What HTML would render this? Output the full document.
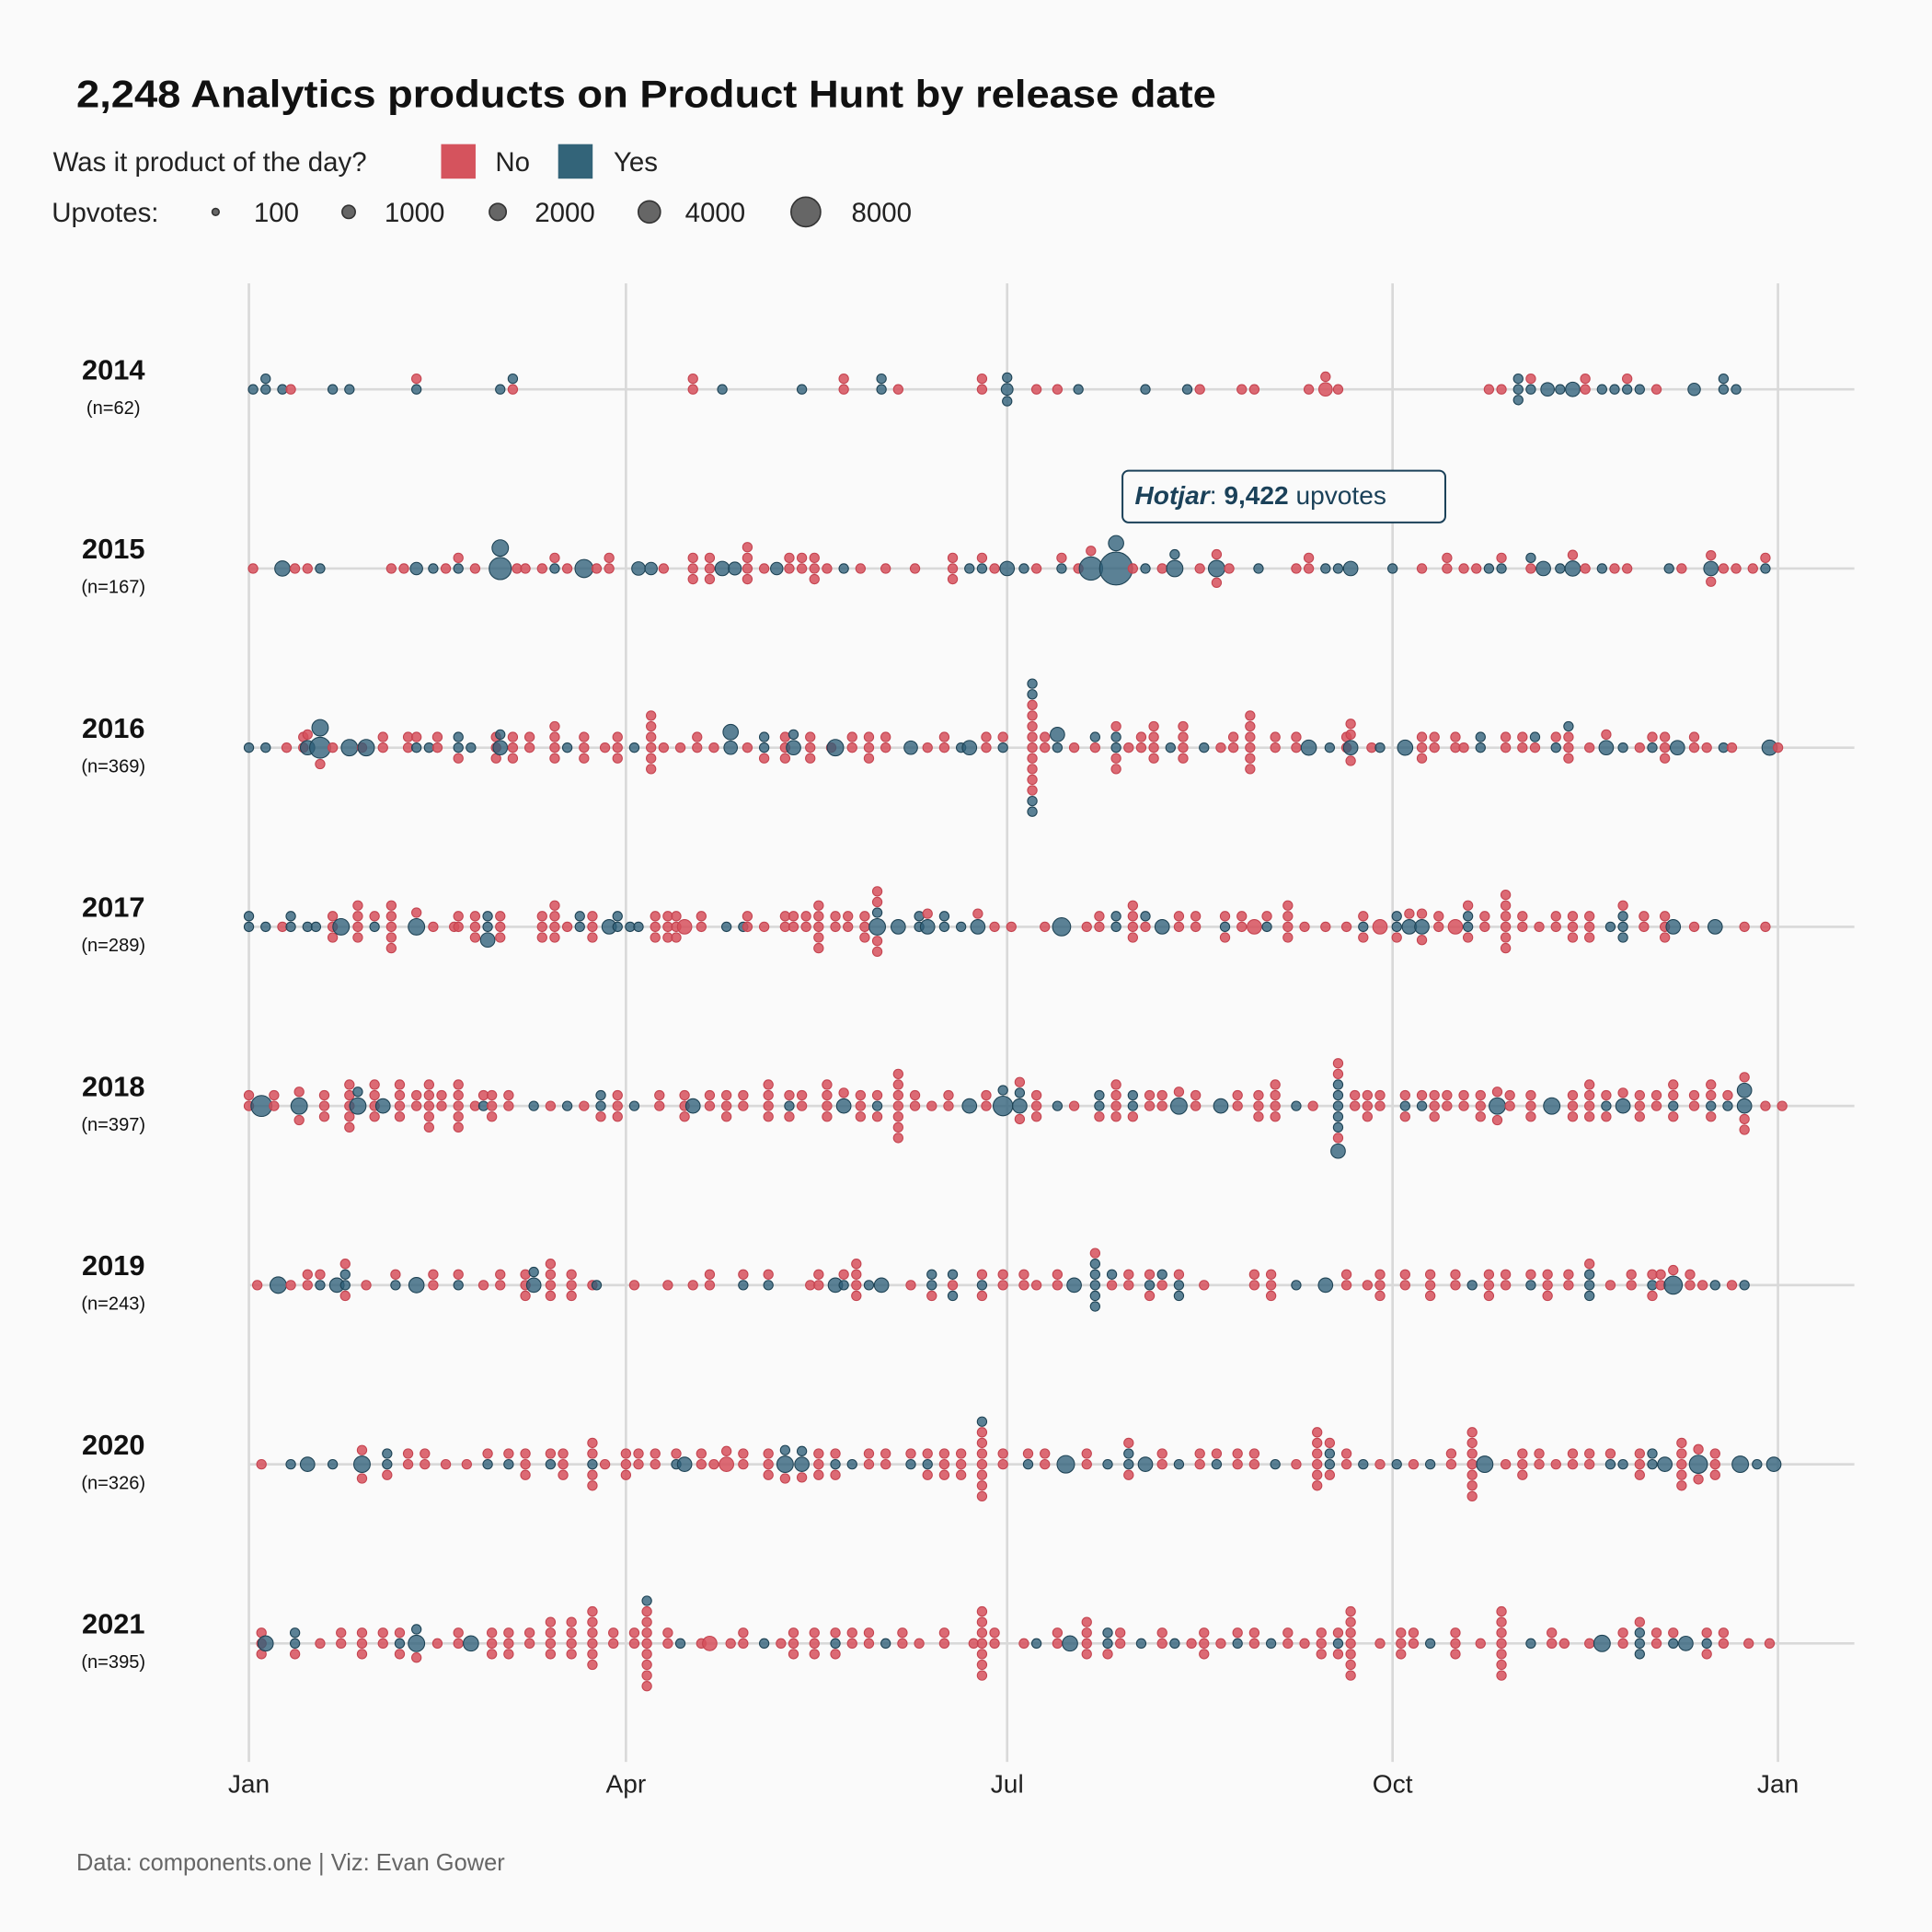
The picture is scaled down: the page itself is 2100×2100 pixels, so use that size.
<!DOCTYPE html>
<html><head><meta charset="utf-8"><style>
html,body{margin:0;padding:0;background:#fafafa}
svg{display:block}
text{font-family:"Liberation Sans",sans-serif}
</style></head><body>
<svg id="chart" width="2100" height="2100" viewBox="0 0 1568 1568" xmlns="http://www.w3.org/2000/svg">
<rect width="1568" height="1568" fill="#fafafa"/>
<text x="62" y="87" font-size="31" font-weight="bold" fill="#111" textLength="925" lengthAdjust="spacingAndGlyphs">2,248 Analytics products on Product Hunt by release date</text>
<g>
<text x="43" y="139" font-size="22" fill="#222">Was it product of the day?</text>
<rect x="358" y="117" width="28" height="28" fill="#d5535d"/>
<text x="402" y="139" font-size="22" fill="#222">No</text>
<rect x="453" y="117" width="28" height="28" fill="#336479"/>
<text x="498" y="139" font-size="22" fill="#222">Yes</text>
</g>
<g id="sizeLegend">
<text x="42" y="180" font-size="22" fill="#222">Upvotes:</text>
</g>
<g id="grid"></g>
<g id="marks"></g>
<g id="ylabels"></g>
<g id="xlabels"></g>
<g>
<rect x="911" y="382" width="262" height="42" rx="5" fill="#fafafa" stroke="#1b4159" stroke-width="1.5"/>
<text x="921" y="409" font-size="21" fill="#1b4159"><tspan font-style="italic" font-weight="bold">Hotjar</tspan>: <tspan font-weight="bold">9,422</tspan> upvotes</text>
</g>
<text x="62" y="1518" font-size="19" fill="#666">Data: components.one | Viz: Evan Gower</text>
</svg>
<script>
const years=["2014","2015","2016","2017","2018","2019","2020","2021"];
const counts=[62,167,369,289,397,243,326,395];
const monthTicks=["Jan","Apr","Jul","Oct","Jan"];
const monthTickDays=[0,90,181,273,365];
const sizeLegendValues=[100,1000,2000,4000,8000];
const d2014="1:b 4:b,b 8:b 10:r 20:b 24:b 40:b,r 60:b 63:r,b 106:r,r 113:b 132:b 142:r,r 151:b,b 155:r 175:r,r 181:b500,b,b 188:r 193:r 198:b 214:b 224:b 227:r 237:r 240:r 253:r 257:r800,r 260:r 296:r 299:r 303:b,b,b 306:b,r 310:b800 313:b 316:b1000 319:r,r 323:b 326:b 329:b,r 332:b 336:r 345:b600 352:b,b 355:b";
const d2015="1:r 8:b1200 11:r 14:r 17:b 34:r 37:r 40:b600 44:b 47:r 50:b,r 54:r 60:b3500,b1500 64:r 66:r 70:r 73:b,r 76:r 80:b2000 83:r 86:r,r 93:b800 96:b600 99:r 106:r,r,r 110:r,r,r 113:b1000 116:b700 119:r,r,r,r 123:r 126:b600 129:r,r 132:r,r 135:r,r,r 138:r 142:b 146:r 152:r 159:r 168:r,r,r 172:b 175:b,r 178:r 181:b1000 185:b 188:r 194:b,r 198:r 201:b4000,r 207:b9422,b1200 211:r 214:b 218:r 221:b1500,b 227:r 231:b1500,r,r 234:r 241:b 250:r 253:r,r 257:b 260:b 263:b1000 273:b 280:r 286:r,r 290:r 293:r 296:b 299:b,r 306:r,b 309:b1000 313:b 316:b1200,r 319:r 323:b 326:r 329:r 339:b 342:r 349:b1000,r,r 352:r 355:r 359:r 362:b,r";
const d2016="0:b 4:b 9:r 13:r,r 14:b1000,r 17:b3000,b1500,r 20:r 24:b1500 27:r 28:b1500 32:r,r 38:r,r 40:b,r 43:b 45:r,r 50:b,b,r 53:b 59:r,r,r 60:b1000,b 63:r,r,r 67:r,r 73:r,r,r,r 76:b 80:r,r,r 85:r 88:r,r,r 92:b 96:r,r,r,r,r,r 99:r 103:r 107:r,r 111:r 115:b800,b1200 119:r 123:b,b,r 128:r,r,r 130:b1000,b 134:r,r,r 139:r 140:b1500 144:r,r 148:r,r,r 152:r,r 158:b800 162:r 166:r,r 170:b 172:b1000 176:r,r 180:b,r 187:r,r,r,r,r,r,r,r,r,b,b,b,b 190:r,r 193:b,b1000 197:r 202:r,b 207:b,b,r,r,r 210:r 213:r,r 216:r,r,r,r 220:b 223:r,r,r,r 228:b 232:r 235:r,r 239:r,r,r,r,r,r 245:r,r 250:r,r 253:b1200 258:b 262:r,r 263:b1000,r,r,r 268:r 270:b 276:b1200 280:r,r,r 283:r,r 288:r,r 290:r 294:b,b 300:r,r 304:r,r 307:r,b 312:b,r 315:r,r,r,b 320:r 324:b1000,r 328:b 332:r 335:b,r 338:r,r,r 341:b1000 345:r,r 348:r 352:b 354:r 363:b1200 365:r";
const d2017="0:b,b 4:b 8:r 10:b,b 14:b 16:b 20:r,r,r 22:b1500 26:r,r,r,r 30:b,r 34:r,r,r,r,r 40:b1500,r 44:r 49:r 50:r,r 54:r,r,r 57:b,b,b1000 60:r,r,r 70:r,r,r 73:r,r,r,r 76:r 79:b,b 82:r,r,r 86:b1000 88:b,b 91:b 93:b 97:r,r,r 100:r,r,r 102:r,r,r 104:r1000 108:r,r 114:b 118:b 119:r,r 123:r 128:r,r 130:r,r 133:r,r 136:r,r,r,r,r 140:r,r 143:r,r 147:r,r,r 150:b1500,b,r,r,r,r 155:b1000 160:b,b 162:b1000,r 166:b,b 170:b 174:b1000,r 178:r 182:r 190:r 194:b2000 200:r 203:r,r 207:b,b 211:r,r,r,r 214:r,b 218:b1000 222:r,r 226:r,r 233:b,r,r 237:r,r 240:r1000 243:b,r 248:r,r,r,r 252:r 257:r 262:r 266:b,r,r 270:r1000 274:b,b,r 277:b1000,r 280:b1000,r,r 284:r,r 288:r1000 291:b,b,r,r 295:r,r 300:r,r,r,r,r,r 304:r,r 308:r 312:r,r 316:r,r,r 320:r,r,r 325:b 328:b,b,b,r 333:r,r 338:r,r,r 340:b1000 345:r 350:b1000 357:r 362:r";
const d2018="0:r,r 3:b3000 6:r,r 12:b1500,r,r 18:r,r,r 24:r,r,r,r,r 26:b1500,b 30:r,r,r,r 32:b1000 36:r,r,r,r 40:r,r 43:r,r,r,r,r 46:r,r 50:r,r,r,r,r 54:r 56:b,r 58:r,r,r 62:r,r 68:b 72:r 76:b 80:r 84:b,b,r 88:r,r,r 92:b 98:r,r 104:r,r,r 106:b1000 110:r,r 114:r,r,r 118:r,r 124:r,r,r,r 129:b,r,r 132:r,r 138:r,r,r,r 142:b1000,r 146:r,r,r 150:b,r,r 155:r,r,r,r,r,r,r 159:r,r 163:r 167:r,r 172:b1000 176:r,r 180:b2500,b 184:b1000,b,r,r 188:r,r,r 193:b 197:r 203:b,b,r 207:r,r,r,r 211:b,b,r 215:r,r 218:r,r 222:b1500,r 226:r,r 232:b1000 236:r,r 241:r,r,r 245:r,r,r,r 250:b 254:r 260:b,b,b,b,b,r,r,r,b1000 264:r,r 267:r,r,r 270:r,r 276:b,r,r 280:b,r 283:r,r,r 286:r,r 290:r,r 294:r,r,r 298:b1500,r,r 301:r,r 306:r,r,r 311:b1500 316:r,r,r 320:r,r,r,r 324:b,r,r 328:b1000,r 332:r,r,r 336:r,r 340:b,r,r,r 345:r,r 349:b,r,r,r 353:b,r 357:b1000,b1000,r,r,r 362:r 366:r";
const d2019="2:r 7:b1500 10:r 14:r,r 17:b,r 21:b1000 23:b,b,r,r 28:r 35:b,r 40:b1200 44:r,r 50:b,r 56:r 60:r,r 66:r,r,r 68:b1000,b 72:r,r,r,r 77:r,r,r 82:r 83:b 92:r 100:r 106:r 110:r,r 118:b,r 124:b,r 134:r 136:r,r 140:b1000 142:b,r 145:r,r,r,r 148:b 151:b1000 158:r 163:b,b,r 168:r,b,b 175:b,r,r 180:r,r 185:r,r 188:r 193:r,r 197:b1000 202:b,b,b,b,b,r 206:r,b 210:r,r 215:b,r,r 218:r,b 222:b,r,b 228:r 240:r,r 244:r,r,r 250:b 257:b1000 262:r,r 267:r 270:r,r,r 276:r,r 282:r,r,r 288:r,r 292:b 296:r,r,r 300:r,r 306:b,r 310:r,r,r 315:r,r 320:b,b,b,r 325:r 330:r,r 335:b,r,r 337:r,r 340:b2000,r 344:r,r 347:r 350:b 354:r 357:b";
const d2020="3:r 10:b 14:b1000 20:b 27:b1500,r,r 33:b,b,r 38:r,r 42:r,r 47:r 52:r 57:b,r 62:b,r 66:r,r,r 72:b,r 75:r,r,r 82:b,r,r,r,r 85:r 90:r,r,r 93:r,r 97:r,r 102:b,r 104:b1000 108:r,r 111:r 114:r1000,r 118:r,r 124:r,r,r 128:b1500,b,r 132:b1000,b,r 136:r,r,r 140:b,r,r 144:b 148:r,r 152:r,r 158:b,r 162:b,r,r 166:r,r,r 170:r,r,r 175:r,r,r,r,r,r,r,b 180:r,r 186:b,r 190:r,r 195:b1800 200:r,r 205:b 210:b,b,r,r 214:b1000 218:r,r 222:b 227:r,r 231:b,r 236:r,r 240:r,r 245:b 250:r 255:r,r,r,r,r,r 258:b,b,r,r 262:r,r 266:b 270:r 274:b 278:r 282:b 287:r,r 292:r,r,r,r,r,r,r 295:b1500 300:r 304:r,r,r 308:r,r 312:r 316:r,r 320:r,r 325:b,r 328:b 332:r,r,r 335:b,b 338:b1000 342:r,r,r,r,r 346:b2000,r,r 350:r,r,r 356:b1500 360:b 364:b1000";
const d2021="3:r,r,r 4:b1200 11:b,b,r 17:r 22:r,r 27:r,r,r 32:r,r 36:b,r,r 40:b1500,b,r 45:r 50:r,r 53:b1200 58:r,r,r 62:r,r,r 67:r,r 72:r,r,r,r 77:r,r,r,r 82:r,r,r,r,r,r 87:r,r 92:r,r 95:r,r,r,r,r,r,r,b,r 100:r,r 103:b 108:r 110:r1000 115:r 118:r,r 123:b 127:r 130:r,r,r 135:r,r,r 140:b,r,r 144:r,r 148:r,r 152:b 156:r,r 160:r 166:r,r 173:r 175:r,r,r,r,r,r,r 178:r,r 185:r 188:b 193:r,r 196:b1200 200:r,r,r,r 205:b,b,r 208:r,r 213:b 218:r,r 221:b 225:r 228:r,r,r 232:r 236:b,r 240:r,r 244:b 248:r,r 252:r 256:r,r,r 260:b,r,r 263:r,r,r,r,r,r,r 270:r 275:r,r,r 278:r,r 282:b 288:r,r,r 294:r 299:r,r,r,r,r,r,r 306:b 311:r,r 314:r 320:r 323:b1500 328:r,r 332:b,b,b,r 336:r,r 340:b,r 343:b1000 348:b,r,r 352:r,r 358:r 363:r";
const yearData=[d2014,d2015,d2016,d2017,d2018,d2019,d2020,d2021];

const NS="http://www.w3.org/2000/svg";
const X0=202,X1=1443,Y0=316,DY=145.4;
function xScale(day){return X0+(X1-X0)*day/365;}
function yScale(i){return Y0+DY*i;}
function rScale(v){return 2.2+0.115*Math.sqrt(v);}
function mk(tag,attrs,parent){const e=document.createElementNS(NS,tag);for(const k in attrs)e.setAttribute(k,attrs[k]);parent.appendChild(e);return e;}
const grid=document.getElementById('grid'),marks=document.getElementById('marks');
const ylab=document.getElementById('ylabels'),xlab=document.getElementById('xlabels');
const sl=document.getElementById('sizeLegend');
const slX=[175,283,404,527,654],slT=[206,312,434,556,691];
sizeLegendValues.forEach((v,i)=>{
  const c=mk('circle',{cx:slX[i],cy:172,r:rScale(v)-0.5,fill:'#666',stroke:'#333','stroke-width':1.2},sl);
  
  
  const t=mk('text',{x:slT[i],y:180,'font-size':22,fill:'#222'},sl);t.textContent=v;
  
  
});
monthTickDays.forEach((d,i)=>{
  const l=mk('line',{x1:xScale(d),x2:xScale(d),y1:230,y2:1430,stroke:'#d9d9d9','stroke-width':2},grid);
  
  
  const t=mk('text',{x:xScale(d),y:1455,'font-size':21,fill:'#222','text-anchor':'middle'},xlab);t.textContent=monthTicks[i];
  
  
});
years.forEach((yr,i)=>{
  const y=yScale(i);
  const l=mk('line',{x1:202,x2:1505,y1:y,y2:y,stroke:'#d9d9d9','stroke-width':2},grid);
  
  
  const t=mk('text',{x:92,y:y-8,'font-size':23,'font-weight':'bold',fill:'#111','text-anchor':'middle'},ylab);t.textContent=yr;
  
  
  const n=mk('text',{x:92,y:y+20,'font-size':15,fill:'#111','text-anchor':'middle'},ylab);n.textContent='(n='+counts[i]+')';
  
  
  yearData[i].split(' ').forEach(col=>{
    const [ds,dots]=col.split(':');
    const cx=xScale(+ds);
    let up=0,down=0,first=true,flip=true;
    dots.split(',').forEach(tok=>{
      const yes=tok[0]==='b';
      const v=tok.length>1?+tok.slice(1):200;
      const r=rScale(v);
      let cy;
      if(first){cy=y;up=r;down=r;first=false;}
      else if(flip){cy=y-(up+1+r);up+=2*r+1;flip=false;}
      else{cy=y+(down+1+r);down+=2*r+1;flip=true;}
      const c=mk('circle',{cx:cx,cy:cy,r:r,fill:yes?'#2e5f78':'#d6505c','fill-opacity':yes?0.78:0.85,stroke:yes?'#1d4254':'#c4434f','stroke-width':0.8},marks);
      
      
    });
  });
});
</script>
</body></html>
